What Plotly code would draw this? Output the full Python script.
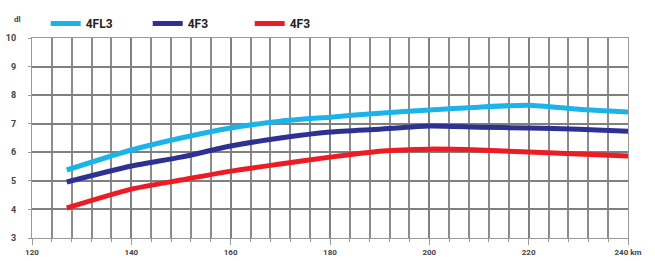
import plotly.graph_objects as go

speed = [127, 140, 150, 160, 170, 180, 190, 200, 210, 220, 230, 240]
s_4fl3 = [5.38, 6.08, 6.50, 6.85, 7.09, 7.23, 7.37, 7.48, 7.58, 7.65, 7.51, 7.41]
s_4f3a = [4.96, 5.52, 5.83, 6.22, 6.50, 6.71, 6.81, 6.92, 6.88, 6.85, 6.81, 6.74]
s_4f3b = [4.05, 4.71, 5.03, 5.34, 5.59, 5.83, 6.04, 6.11, 6.08, 6.01, 5.94, 5.87]

names = ["4FL3", "4F3", "4F3"]
colors = ["#1ab4ea", "#2e3192", "#ed1c24"]

x_ticks = [120, 140, 160, 180, 200, 220, 240]
x_labels = ["120", "140", "160", "180", "200", "220", "240 km"]
y_ticks = [3, 4, 5, 6, 7, 8, 9, 10]

fig = go.Figure()
for name, vals, col in zip(names, [s_4fl3, s_4f3a, s_4f3b], colors):
    fig.add_trace(go.Scatter(x=speed, y=vals, mode="lines", name=name,
                             line=dict(color=col, width=5, shape="spline", smoothing=0.6)))

fig.update_layout(
    width=655, height=261,
    margin=dict(l=32, r=27, t=38, b=23, autoexpand=False),
    paper_bgcolor="white", plot_bgcolor="white",
    showlegend=True,
    legend=dict(orientation="h", x=0.023, y=1.0, xanchor="left", yanchor="bottom",
                font=dict(family="Roboto", size=12, color="#222", weight="bold"),
                itemwidth=30, entrywidth=57, entrywidthmode="pixels",
                tracegroupgap=0, bgcolor="rgba(0,0,0,0)"),
    font=dict(family="Roboto"),
)
fig.update_xaxes(range=[120, 240], tickvals=x_ticks, ticktext=x_labels, automargin=False,
                 showgrid=True, gridcolor="#808080", gridwidth=1.5,
                 minor=dict(dtick=4, showgrid=True, gridcolor="#8c8c8c", gridwidth=1.5,
                            ticks="outside", ticklen=3, tickcolor="#999"),
                 ticks="outside", ticklen=6, tickcolor="#999",
                 tickfont=dict(size=8, color="#444", weight="bold"),
                 showline=True, linecolor="#999", linewidth=1.3, mirror=True, zeroline=False)
fig.update_yaxes(range=[3, 10], tickvals=y_ticks, automargin=False,
                 showgrid=True, gridcolor="#808080", gridwidth=1.5,
                 tickfont=dict(size=9, color="#444", weight="bold"),
                 ticks="outside", ticklen=3, tickcolor="#999", ticklabelstandoff=10,
                 showline=True, linecolor="#999", linewidth=1.3, mirror=True, zeroline=False)
fig.add_annotation(text="dl", xref="paper", yref="paper", x=-0.015, y=1.06,
                   xanchor="right", yanchor="bottom", showarrow=False,
                   font=dict(size=8, color="#444", weight="bold"))
fig.write_html("out.html", config={"displayModeBar": False},
               post_script="document.body.style.margin='0';")
